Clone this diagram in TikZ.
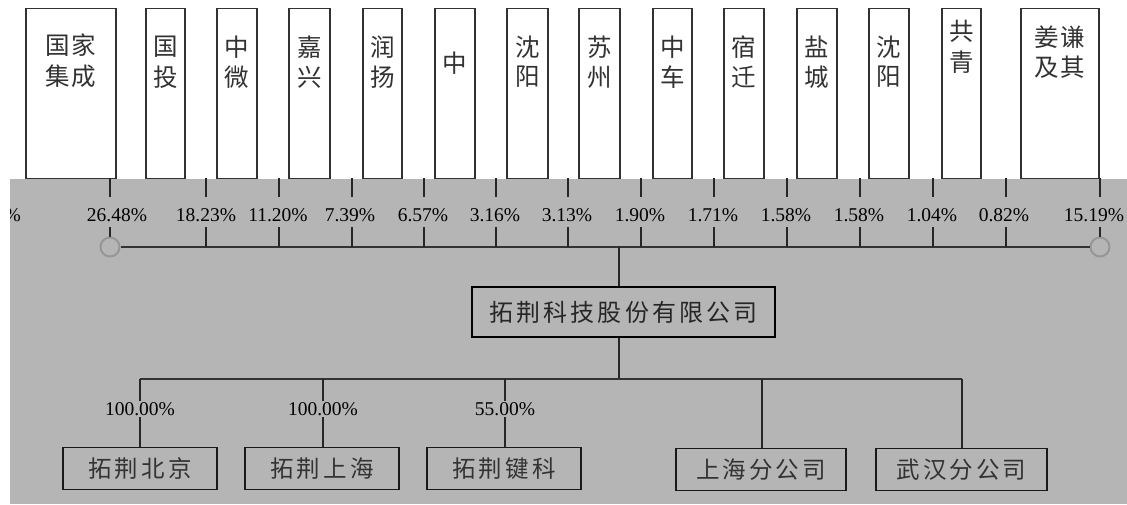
\documentclass[tikz,border=0pt]{standalone}
\usepackage{fontspec}
\setmainfont{Liberation Serif}
\newfontfamily\cjk[LetterSpace=13]{Noto Sans CJK SC}
\newfontfamily\cjktop[LetterSpace=8]{Noto Sans CJK SC}
\definecolor{bg}{RGB}{181,181,181}
\definecolor{ink}{RGB}{50,50,50}
\definecolor{ringc}{RGB}{150,150,150}
\tikzset{
  shbox/.style={draw=ink, line width=1.3pt, fill=white, anchor=north, inner sep=0pt},
  cjkt/.style={font=\cjktop\fontsize{24.5}{28}\selectfont, text=ink, inner sep=0pt},
  pct/.style={font=\fontsize{19.5}{22}\selectfont, text=black, inner sep=1pt},
  conn/.style={draw=black!85, line width=1.2pt},
  hline/.style={draw=black!80, line width=1.6pt},
  subbox/.style={draw=black!90, line width=1.3pt, fill=bg, inner sep=0pt, font=\cjk\fontsize{23.5}{28}\selectfont, text=black!80},
  mainbox/.style={draw=black, line width=2.6pt, fill=bg, inner sep=0pt, font=\cjk\fontsize{24}{28}\selectfont, text=black!85},
  ring/.style={circle, draw=ringc, line width=2pt, fill=bg, minimum size=19pt, inner sep=0pt}
}
\begin{document}
\begin{tikzpicture}[x=1pt,y=-1pt]
\useasboundingbox (0,0) rectangle (1127,504);
\fill[bg] (10,179) rectangle (1127,504);

% shareholder boxes
\foreach \n/\c/\w in {1/71/90, 2/165.5/39, 3/237/40, 4/309.5/41, 5/382.5/39, 6/455/40, 7/527.5/41, 8/599.5/41, 9/672.5/39, 10/744/40, 11/817/40, 12/889/40, 13/961.5/39, 14/1060/78}
  \node[shbox, minimum width=\w pt, minimum height=170pt] (s\n) at (\c,8) {};

\node[cjkt] (s1a) at (71,45) {国家};
\node[cjkt] (s1b) at (71,76) {集成};
\node[cjkt] (s2a) at (165.5,47) {国};
\node[cjkt] (s2b) at (165.5,77) {投};
\node[cjkt] (s3a) at (237,47) {中};
\node[cjkt] (s3b) at (237,77) {微};
\node[cjkt] (s4a) at (309.5,47) {嘉};
\node[cjkt] (s4b) at (309.5,77) {兴};
\node[cjkt] (s5a) at (382.5,47) {润};
\node[cjkt] (s5b) at (382.5,77) {扬};
\node[cjkt] (s6a) at (455,63) {中};
\node[cjkt] (s7a) at (527.5,47) {沈};
\node[cjkt] (s7b) at (527.5,77) {阳};
\node[cjkt] (s8a) at (599.5,47) {苏};
\node[cjkt] (s8b) at (599.5,77) {州};
\node[cjkt] (s9a) at (672.5,47) {中};
\node[cjkt] (s9b) at (672.5,77) {车};
\node[cjkt] (s10a) at (744,47) {宿};
\node[cjkt] (s10b) at (744,77) {迁};
\node[cjkt] (s11a) at (817,47) {盐};
\node[cjkt] (s11b) at (817,77) {城};
\node[cjkt] (s12a) at (889,47) {沈};
\node[cjkt] (s12b) at (889,77) {阳};
\node[cjkt] (s13a) at (961.5,31) {共};
\node[cjkt] (s13b) at (961.5,62) {青};
\node[cjkt] (s14a) at (1060,37) {姜谦};
\node[cjkt] (s14b) at (1060,67) {及其};

% circles and the shareholder line
\node[ring] (cl) at (110,247) {};
\node[ring] (cr) at (1100,247) {};
\draw[hline] (cl) -- (cr);

% percentage labels and ticks
\foreach \i/\x/\lx/\p in {1/110/117/26.48, 2/206/206/18.23, 3/279/278/11.20, 4/352/350/7.39, 5/424/423/6.57, 6/496/495/3.16, 7/568/567/3.13, 8/641/640/1.90, 9/714/713/1.71, 10/787/786/1.58, 11/860/859/1.58, 12/933/932/1.04, 13/1006/1004/0.82, 14/1100/1094/15.19}{
  \coordinate (u\i) at (\x,178);
  \coordinate (v\i) at (\x,197);
  \draw[conn] (u\i) -- (v\i);
  \node[pct] (p\i) at (\lx,215) {\p\%};
  \coordinate (a\i) at (\x,227);
  \coordinate (t\i) at (\x,247);
}
\foreach \i in {2,...,13} \draw[conn] (a\i) -- (t\i);
\draw[conn] (a1) -- (cl);
\draw[conn] (a14) -- (cr);

% cut-off label at the left edge
\begin{scope}
  \clip (10,200) rectangle (40,232);
  \node[pct, anchor=east] (pf) at (22,215) {\%};
\end{scope}

% main company
\node[mainbox, minimum width=303pt, minimum height=50pt] (main) at (623.5,312) {拓荆科技股份有限公司};
\coordinate (j1) at (619,247);
\coordinate (j2) at (619,379);
\draw[conn] (main.north -| j1) -- (j1);
\draw[conn] (main.south -| j2) -- (j2);

% subsidiaries
\coordinate (h1) at (140,379);
\coordinate (h2) at (323,379);
\coordinate (h3) at (505,379);
\coordinate (h4) at (762,379);
\coordinate (h5) at (962,379);
\draw[hline] (h1) -- (h5);

\node[subbox, minimum width=154pt, minimum height=42pt, anchor=north] (b1) at (140,447) {拓荆北京};
\node[subbox, minimum width=154pt, minimum height=42pt, anchor=north] (b2) at (322,447) {拓荆上海};
\node[subbox, minimum width=154pt, minimum height=42pt, anchor=north] (b3) at (504,447) {拓荆键科};
\node[subbox, minimum width=170pt, minimum height=42pt, anchor=north] (b4) at (761,448) {上海分公司};
\node[subbox, minimum width=171pt, minimum height=42pt, anchor=north] (b5) at (961.5,448) {武汉分公司};

\draw[conn] (h1) -- node[pct, fill=bg, pos=0.44] (q1) {100.00\%} (h1 |- b1.north);
\draw[conn] (h2) -- node[pct, fill=bg, pos=0.44] (q2) {100.00\%} (h2 |- b2.north);
\draw[conn] (h3) -- node[pct, fill=bg, pos=0.44] (q3) {55.00\%} (h3 |- b3.north);
\draw[conn] (h4) -- (h4 |- b4.north);
\draw[conn] (h5) -- (h5 |- b5.north);
\end{tikzpicture}
\end{document}
